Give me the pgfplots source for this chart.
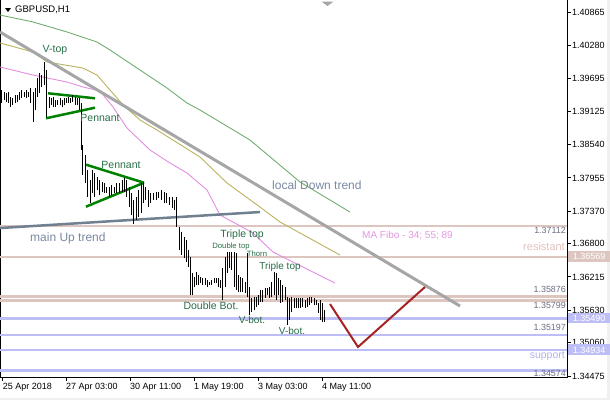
\documentclass[border=0pt]{standalone}
\usepackage{pgfplots}
\pgfplotsset{compat=1.18}
\usepackage{pgfplotstable}
\usepackage{fontspec}
\setmainfont{Liberation Sans}
\definecolor{rosy}{RGB}{222,198,192}
\definecolor{lav}{RGB}{190,190,246}
\definecolor{ma34}{RGB}{226,140,226}
\definecolor{ma55}{RGB}{186,178,92}
\definecolor{ma89}{RGB}{112,172,112}
\definecolor{trendgray}{RGB}{166,166,166}
\definecolor{slate}{RGB}{112,128,144}
\definecolor{pen}{RGB}{0,128,0}
\definecolor{annot}{RGB}{40,110,70}
\definecolor{lbl}{RGB}{108,110,130}
\definecolor{redline}{RGB}{165,35,35}
\definecolor{trendtxt}{RGB}{122,136,162}
\definecolor{fibotxt}{RGB}{226,150,226}
\definecolor{restxt}{RGB}{226,192,186}
\definecolor{suptxt}{RGB}{176,176,238}
\newcommand{\fs}[1]{\fontsize{#1}{#1}\selectfont}

\pgfplotstableread{
x lo hi
1.7 1.39271 1.39500
4.0 1.39324 1.39465
6.0 1.39289 1.39447
8.3 1.39271 1.39465
10.7 1.39201 1.39377
12.7 1.39236 1.39359
15.0 1.39271 1.39412
17.3 1.39289 1.39412
19.3 1.39324 1.39465
21.7 1.39359 1.39500
24.0 1.39377 1.39465
26.0 1.39359 1.39500
28.3 1.39377 1.39465
30.7 1.39271 1.39535
33.3 1.38938 1.39465
35.3 1.39149 1.39535
37.3 1.39377 1.39711
39.3 1.39447 1.39799
41.7 1.39553 1.39763
44.0 1.39588 1.39992
46.7 1.39026 1.39851
49.0 1.39184 1.39377
51.0 1.39236 1.39359
53.3 1.39201 1.39377
55.3 1.39201 1.39324
57.7 1.39236 1.39324
60.0 1.39236 1.39359
62.0 1.39201 1.39324
64.0 1.39236 1.39359
66.3 1.39271 1.39359
68.3 1.39271 1.39377
70.7 1.39271 1.39359
72.7 1.39289 1.39412
75.0 1.39236 1.39377
77.3 1.39236 1.39359
79.3 1.39149 1.39359
81.0 1.38446 1.39271
82.7 1.38007 1.38534
85.0 1.37866 1.38358
87.3 1.37620 1.38094
90.0 1.37515 1.37919
92.3 1.37690 1.38094
94.7 1.37620 1.38042
97.0 1.37743 1.37971
99.3 1.37655 1.37919
102.0 1.37708 1.37884
104.3 1.37690 1.37866
106.7 1.37690 1.37796
109.0 1.37620 1.37796
111.7 1.37655 1.37831
114.0 1.37690 1.37796
116.7 1.37690 1.37866
119.3 1.37690 1.37866
122.0 1.37708 1.37919
124.3 1.37708 1.37954
126.7 1.37620 1.37919
129.0 1.37444 1.37796
131.3 1.37304 1.37690
133.3 1.37146 1.37567
136.0 1.37216 1.37620
138.7 1.37269 1.37743
141.0 1.37339 1.37866
143.3 1.37515 1.37884
145.7 1.37567 1.37796
148.3 1.37444 1.37743
150.7 1.37515 1.37690
153.3 1.37567 1.37690
156.0 1.37567 1.37708
158.7 1.37602 1.37708
161.3 1.37567 1.37743
164.0 1.37515 1.37708
166.7 1.37515 1.37690
169.3 1.37480 1.37620
172.0 1.37427 1.37620
174.3 1.37392 1.37567
176.7 1.37093 1.37620
179.3 1.36689 1.37093
181.7 1.36601 1.37005
184.0 1.36548 1.36917
186.3 1.36478 1.36865
188.5 1.36390 1.36689
190.5 1.35898 1.36566
192.5 1.35898 1.36285
194.7 1.36039 1.36215
196.7 1.36074 1.36302
198.7 1.36074 1.36250
200.7 1.36109 1.36215
202.7 1.36074 1.36197
205.0 1.36074 1.36197
207.3 1.36039 1.36162
209.3 1.36074 1.36127
211.7 1.36074 1.36162
214.0 1.36109 1.36197
216.0 1.36109 1.36197
218.3 1.36039 1.36197
220.7 1.36021 1.36162
222.7 1.35810 1.36373
225.0 1.36039 1.36566
227.3 1.36285 1.36654
229.3 1.36373 1.36654
231.7 1.36338 1.36654
234.0 1.36039 1.36654
236.0 1.35986 1.36636
238.3 1.35951 1.36250
240.7 1.35951 1.36215
242.7 1.35951 1.36197
245.0 1.35933 1.36127
247.3 1.35863 1.36636
249.3 1.35547 1.36039
251.7 1.35600 1.35846
254.0 1.35635 1.35863
256.0 1.35688 1.35863
258.3 1.35723 1.35898
260.7 1.35775 1.35986
262.7 1.35775 1.35986
265.0 1.35846 1.36021
267.3 1.35898 1.36021
269.3 1.35846 1.36039
271.7 1.35863 1.36127
274.0 1.35898 1.36302
276.0 1.35810 1.36285
278.3 1.35898 1.36197
280.7 1.35758 1.36162
282.7 1.35775 1.36074
285.0 1.35810 1.36039
287.3 1.35371 1.35863
289.3 1.35459 1.35846
291.7 1.35600 1.35863
294.0 1.35670 1.35846
296.0 1.35670 1.35846
298.3 1.35670 1.35846
300.7 1.35670 1.35846
302.7 1.35688 1.35846
305.0 1.35670 1.35810
307.3 1.35688 1.35846
309.3 1.35723 1.35863
311.7 1.35758 1.35863
314.0 1.35723 1.35846
316.0 1.35723 1.35810
318.3 1.35582 1.35758
320.7 1.35459 1.35810
322.7 1.35424 1.35758
324.5 1.35424 1.35635
}\bars

\begin{document}
\begin{tikzpicture}
\useasboundingbox (0,-23pt) rectangle (610pt,377pt);
\fill[black!6] (607pt,-23pt) rectangle (610pt,377pt);
\fill[black!6] (0,-23pt) rectangle (610pt,-21pt);
\begin{axis}[
  at={(0,0)}, anchor=south west,
  scale only axis, width=567pt, height=377pt,
  xmin=0, xmax=567, ymin=1.34458, ymax=1.41081,
  clip=false,
  axis line style={black, line width=1pt},
  tick align=outside, major tick length=4pt,
  tick style={black, line width=1pt},
  xtick pos=left, ytick pos=right, yticklabel pos=right,
  xtick={2.7,66,130,194,258,322},
  xticklabels={25 Apr 2018, 27 Apr 03:00, 30 Apr 11:00, 1 May 19:00, 3 May 03:00, 4 May 11:00},
  ytick={1.34475,1.35060,1.35630,1.36215,1.36800,1.37370,1.37955,1.38540,1.39125,1.39695,1.40280,1.40865},
  yticklabels={1.34475,1.35060,1.35630,1.36215,1.36800,1.37370,1.37955,1.38540,1.39125,1.39695,1.40280,1.40865},
  xticklabel style={anchor=north west, inner sep=0pt, font=\fs{9}, xshift=0pt, yshift=-2pt},
  yticklabel style={anchor=west, inner sep=0pt, font=\fs{9}, xshift=1pt},
  /pgf/number format/assume math mode=true,
]
% horizontal levels
\addplot[rosy, line width=2.5pt] coordinates {(0,1.37112)(567,1.37112)};
\addplot[rosy, line width=2.5pt] coordinates {(0,1.36569)(567,1.36569)};
\addplot[rosy, line width=2.5pt] coordinates {(0,1.35876)(567,1.35876)};
\addplot[rosy, line width=2.5pt] coordinates {(0,1.35799)(567,1.35799)};
\addplot[lav, line width=2.5pt] coordinates {(0,1.35490)(567,1.35490)};
\addplot[lav, line width=2.5pt] coordinates {(0,1.35197)(567,1.35197)};
\addplot[lav, line width=2.5pt] coordinates {(0,1.34934)(567,1.34934)};
\addplot[lav, line width=2.5pt] coordinates {(0,1.34574)(567,1.34574)};
% moving averages
\addplot[ma89, line width=0.9pt] coordinates {(0,1.40817)(33,1.40695)(67,1.40519)(97,1.40343)(110,1.40203)(143,1.39816)(167,1.39535)(187,1.39271)(200,1.39149)(250,1.38621)(300,1.37884)(350,1.37356)};
\addplot[ma55, line width=0.9pt] coordinates {(0,1.40326)(33,1.40167)(47,1.39992)(83,1.39886)(97,1.39763)(110,1.39500)(123,1.39236)(140,1.38973)(157,1.38797)(200,1.38323)(227,1.37866)(260,1.37444)(280,1.37181)(340,1.36601)};
\addplot[ma34, line width=0.9pt] coordinates {(0,1.39904)(33,1.39763)(67,1.39640)(83,1.39553)(100,1.39482)(113,1.39201)(127,1.38832)(150,1.38446)(170,1.38217)(187,1.38042)(207,1.37743)(220,1.37304)(233,1.37181)(253,1.36988)(273,1.36654)(303,1.36390)(335,1.36109)};
% trend lines
\addplot[trendgray, line width=3pt] coordinates {(0,1.40519)(460,1.35705)};
\addplot[slate, line width=2.5pt] coordinates {(0,1.37075)(260,1.37356)};
% pennants
\addplot[pen, line width=2.5pt] coordinates {(48,1.39442)(95,1.39354)};
\addplot[pen, line width=2.5pt] coordinates {(46,1.39003)(95,1.39189)};
\addplot[pen, line width=2.5pt] coordinates {(86,1.38188)(144,1.37871)};
\addplot[pen, line width=2.5pt] coordinates {(86,1.37450)(144,1.37871)};
% price bars
\addplot[draw=none, mark=none, forget plot,
  error bars/.cd, y dir=plus, y explicit, error mark=none,
  error bar style={draw=black, line width=1pt}]
  table[x=x, y=lo, y error expr=\thisrow{hi}-\thisrow{lo}] {\bars};
% projection
\addplot[redline, line width=2pt] coordinates {(330,1.35740)(358,1.34985)(425,1.36039)};
% shift marker
\fill[trendgray] (axis cs:321.7,1.41051) -- (axis cs:333.3,1.41051) -- (axis cs:327.5,1.40976) -- cycle;
% title
\fill[black] (axis cs:5,1.40940) -- (axis cs:11,1.40940) -- (axis cs:8,1.40870) -- cycle;
\node[anchor=west, inner sep=0pt, font=\fs{9.5}] at (axis cs:15,1.40905) {GBPUSD,H1};
% annotations
\node[annot, font=\fs{10.5}] at (axis cs:55,1.40203) {V-top};
\node[annot, font=\fs{10.5}] at (axis cs:100,1.39008) {Pennant};
\node[annot, font=\fs{10.5}] at (axis cs:121,1.38182) {Pennant};
\node[annot, font=\fs{10.5}] at (axis cs:242,1.36952) {Triple top};
\node[annot, font=\fs{7.7}] at (axis cs:231,1.36759) {Double top};
\node[annot, font=\fs{7.7}] at (axis cs:257,1.36619) {Thorn};
\node[annot, font=\fs{10}] at (axis cs:280,1.36390) {Triple top};
\node[annot, font=\fs{10.5}] at (axis cs:211,1.35705) {Double Bot.};
\node[annot, font=\fs{10}] at (axis cs:252,1.35459) {V-bot.};
\node[annot, font=\fs{10}] at (axis cs:292,1.35266) {V-bot.};
\node[trendtxt, anchor=west, inner sep=0pt, font=\fs{12}] at (axis cs:272,1.37831) {local Down trend};
\node[trendtxt, anchor=west, inner sep=0pt, font=\fs{12}] at (axis cs:30,1.36900) {main Up trend};
\node[fibotxt, anchor=west, inner sep=0pt, font=\fs{10}] at (axis cs:362,1.36935) {MA Fibo - 34; 55; 89};
% level labels
\node[lbl, anchor=east, inner sep=0pt, font=\fs{8.9}] at (axis cs:566,1.37040) {1.37112};
\node[restxt, anchor=east, inner sep=0pt, font=\fs{11}] at (axis cs:565,1.36742) {resistant};
\node[lbl, anchor=east, inner sep=0pt, font=\fs{8.9}] at (axis cs:566,1.36004) {1.35876};
\node[lbl, anchor=east, inner sep=0pt, font=\fs{8.9}] at (axis cs:566,1.35723) {1.35799};
\node[lbl, anchor=east, inner sep=0pt, font=\fs{8.9}] at (axis cs:566,1.35336) {1.35197};
\node[suptxt, anchor=east, inner sep=0pt, font=\fs{10.5}] at (axis cs:565,1.34827) {support};
\node[lbl, anchor=east, inner sep=0pt, font=\fs{8.9}] at (axis cs:566,1.34528) {1.34574};
% right-axis price boxes
\node[fill=rosy, text=white, anchor=west, inner sep=0pt, minimum width=42pt, minimum height=11pt, font=\fs{9}] at (axis cs:568,1.36569) {1.36569};
\node[fill=lav, text=white, anchor=west, inner sep=0pt, minimum width=42pt, minimum height=10pt, font=\fs{9}] at (axis cs:568,1.35490) {1.35490};
\node[fill=lav, text=white, anchor=west, inner sep=0pt, minimum width=42pt, minimum height=11pt, font=\fs{9}] at (axis cs:568,1.34934) {1.34934};
\end{axis}
\end{tikzpicture}
\end{document}
